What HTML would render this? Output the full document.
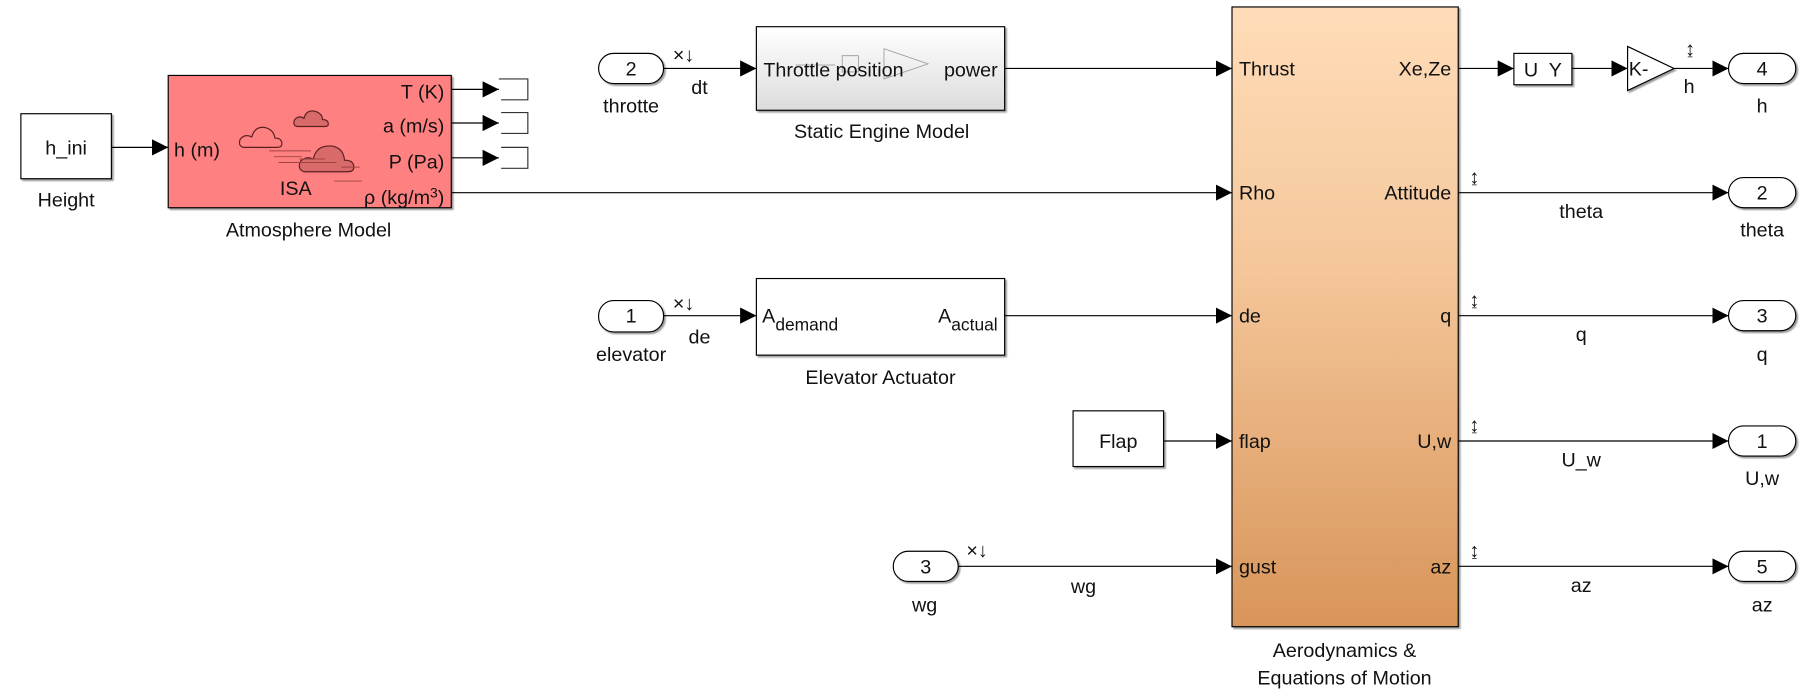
<!DOCTYPE html>
<html><head><meta charset="utf-8"><style>
html,body{margin:0;padding:0;background:#fff;width:1819px;height:694px;overflow:hidden}
svg{display:block}
text{font-family:"Liberation Sans",sans-serif;font-size:17px;fill:#111}
</style></head><body>
<svg width="1819" height="694" viewBox="0 0 1568 598" preserveAspectRatio="none" xmlns="http://www.w3.org/2000/svg">
<defs>
<marker id="a" markerWidth="14" markerHeight="14" refX="14" refY="7" orient="auto" markerUnits="userSpaceOnUse"><path d="M0,0 L14,7 L0,14 Z" fill="#000"/></marker>
<linearGradient id="g1" x1="0" y1="0" x2="0" y2="1"><stop offset="0" stop-color="#fff"/><stop offset="1" stop-color="#dcdcdc"/></linearGradient>
<linearGradient id="g2" x1="0" y1="0" x2="0" y2="1"><stop offset="0" stop-color="#ffdcb8"/><stop offset="0.4" stop-color="#f5c89c"/><stop offset="1" stop-color="#d8955a"/></linearGradient>
<filter id="sh"><feDropShadow dx="1.5" dy="1.5" stdDeviation="0.8" flood-color="#000" flood-opacity="0.4"/></filter>
</defs>
<g stroke="#000" stroke-width="1" fill="none">
<rect x="18" y="98" width="78" height="56" fill="#fff" filter="url(#sh)"/>
<line x1="96" y1="127" x2="145" y2="127" marker-end="url(#a)"/>
<rect x="145" y="65" width="244" height="114" fill="#ff8080" filter="url(#sh)"/>
<line x1="389" y1="77" x2="430" y2="77" marker-end="url(#a)"/>
<line x1="389" y1="106" x2="430" y2="106" marker-end="url(#a)"/>
<line x1="389" y1="136" x2="430" y2="136" marker-end="url(#a)"/>
<path d="M430,68 H455 V86 H432 M432,97 H455 V115 H432 M432,127 H455 V145 H432" stroke="#333"/>
<line x1="389" y1="166" x2="1062" y2="166" marker-end="url(#a)"/>
<rect x="516" y="46" width="56" height="26" rx="13" fill="#fff" filter="url(#sh)"/>
<line x1="572" y1="59" x2="652" y2="59" marker-end="url(#a)"/>
<rect x="652" y="23" width="214" height="72" fill="url(#g1)" filter="url(#sh)"/>
<path d="M686,56 H720 M726,48 h14 v14 h-14z M762,42 L800,55 L762,68z" stroke="#999" stroke-width="0.7"/>
<line x1="866" y1="59" x2="1062" y2="59" marker-end="url(#a)"/>
<rect x="516" y="259" width="56" height="27" rx="13" fill="#fff" filter="url(#sh)"/>
<line x1="572" y1="272" x2="652" y2="272" marker-end="url(#a)"/>
<rect x="652" y="240" width="214" height="66" fill="#fff" filter="url(#sh)"/>
<line x1="866" y1="272" x2="1062" y2="272" marker-end="url(#a)"/>
<rect x="925" y="354" width="78" height="48" fill="#fff" filter="url(#sh)"/>
<line x1="1003" y1="380" x2="1062" y2="380" marker-end="url(#a)"/>
<rect x="770" y="475" width="56" height="26" rx="13" fill="#fff" filter="url(#sh)"/>
<line x1="826" y1="488" x2="1062" y2="488" marker-end="url(#a)"/>
<rect x="1062" y="6" width="195" height="534" fill="url(#g2)" filter="url(#sh)"/>
<line x1="1257" y1="59" x2="1305" y2="59" marker-end="url(#a)"/>
<rect x="1305" y="46" width="50" height="27" fill="#fff" filter="url(#sh)"/>
<line x1="1355" y1="59" x2="1403" y2="59" marker-end="url(#a)"/>
<path d="M1403,40 L1443,59 L1403,78 Z" fill="#fff" filter="url(#sh)"/>
<line x1="1443" y1="59" x2="1490" y2="59" marker-end="url(#a)"/>
<rect x="1490" y="46" width="58" height="26" rx="13" fill="#fff" filter="url(#sh)"/>
<line x1="1257" y1="166" x2="1490" y2="166" marker-end="url(#a)"/>
<rect x="1490" y="153" width="58" height="26" rx="13" fill="#fff" filter="url(#sh)"/>
<line x1="1257" y1="272" x2="1490" y2="272" marker-end="url(#a)"/>
<rect x="1490" y="259" width="58" height="26" rx="13" fill="#fff" filter="url(#sh)"/>
<line x1="1257" y1="380" x2="1490" y2="380" marker-end="url(#a)"/>
<rect x="1490" y="367" width="58" height="26" rx="13" fill="#fff" filter="url(#sh)"/>
<line x1="1257" y1="488" x2="1490" y2="488" marker-end="url(#a)"/>
<rect x="1490" y="475" width="58" height="26" rx="13" fill="#fff" filter="url(#sh)"/>
</g>
<g stroke="#5a2020" stroke-width="1">
<path d="M210,127 q-5,-1 -3,-7 q4,-5 10,-2 q3,-10 12,-8 q7,2 8,9 q6,0 6,5 q0,3 -4,3 Z" fill="none"/>
<path d="M256,109 q-4,-1 -2,-6 q4,-4 8,-1 q2,-8 10,-6 q6,2 6,7 q5,0 5,4 q0,2 -3,2 Z" fill="#d86a6a"/>
<path d="M262,148 q-6,-2 -3,-9 q5,-5 11,-2 q3,-13 17,-11 q9,2 10,12 q8,0 8,6 q0,4 -5,4 Z" fill="#d86a6a"/>
<path d="M232,130 H268 M236,135 H260 M258,137 H280 M240,140 H290 M294,144 H310 M288,156 H312" stroke="#a04444" stroke-width="0.8"/>
</g>
<text x="57" y="133" text-anchor="middle">h_ini</text>
<text x="57" y="178" text-anchor="middle">Height</text>
<text x="150" y="135">h (m)</text>
<text x="383" y="85" text-anchor="end">T (K)</text>
<text x="383" y="114" text-anchor="end">a (m/s)</text>
<text x="383" y="145" text-anchor="end">P (Pa)</text>
<text x="383" y="176" text-anchor="end">ρ (kg/m<tspan font-size="12" dy="-6">3</tspan><tspan dy="6">)</tspan></text>
<text x="255" y="168" text-anchor="middle">ISA</text>
<text x="266" y="204" text-anchor="middle">Atmosphere Model</text>
<text x="544" y="65" text-anchor="middle">2</text>
<text x="544" y="97" text-anchor="middle">throtte</text>
<text x="580" y="53" font-size="14">×↓</text>
<text x="603" y="81" text-anchor="middle">dt</text>
<text x="658" y="66">Throttle position</text>
<text x="860" y="66" text-anchor="end">power</text>
<text x="760" y="119" text-anchor="middle">Static Engine Model</text>
<text x="544" y="278" text-anchor="middle">1</text>
<text x="544" y="311" text-anchor="middle">elevator</text>
<text x="580" y="267" font-size="14">×↓</text>
<text x="603" y="296" text-anchor="middle">de</text>
<text x="657" y="278">A<tspan font-size="15" dy="7">demand</tspan></text>
<text x="860" y="278" text-anchor="end">A<tspan font-size="15" dy="7">actual</tspan></text>
<text x="759" y="331" text-anchor="middle">Elevator Actuator</text>
<text x="964" y="386" text-anchor="middle">Flap</text>
<text x="798" y="494" text-anchor="middle">3</text>
<text x="797" y="527" text-anchor="middle">wg</text>
<text x="833" y="480" font-size="14">×↓</text>
<text x="934" y="511" text-anchor="middle">wg</text>
<text x="1068" y="65">Thrust</text>
<text x="1068" y="172">Rho</text>
<text x="1068" y="278">de</text>
<text x="1068" y="386">flap</text>
<text x="1068" y="494">gust</text>
<text x="1251" y="65" text-anchor="end">Xe,Ze</text>
<text x="1251" y="172" text-anchor="end">Attitude</text>
<text x="1251" y="278" text-anchor="end">q</text>
<text x="1251" y="386" text-anchor="end">U,w</text>
<text x="1251" y="494" text-anchor="end">az</text>
<text x="1159" y="566" text-anchor="middle">Aerodynamics &amp;</text>
<text x="1159" y="590" text-anchor="middle">Equations of Motion</text>
<text x="1330" y="66" text-anchor="middle" font-size="18" xml:space="preserve">U  Y</text>
<text x="1404" y="65">K-</text>
<text x="1457" y="48" text-anchor="middle" font-size="14">↨</text>
<text x="1456" y="80" text-anchor="middle">h</text>
<text x="1519" y="65" text-anchor="middle">4</text>
<text x="1519" y="97" text-anchor="middle">h</text>
<text x="1271" y="158" text-anchor="middle" font-size="14">↨</text>
<text x="1363" y="188" text-anchor="middle">theta</text>
<text x="1519" y="172" text-anchor="middle">2</text>
<text x="1519" y="204" text-anchor="middle">theta</text>
<text x="1271" y="264" text-anchor="middle" font-size="14">↨</text>
<text x="1363" y="294" text-anchor="middle">q</text>
<text x="1519" y="278" text-anchor="middle">3</text>
<text x="1519" y="311" text-anchor="middle">q</text>
<text x="1271" y="372" text-anchor="middle" font-size="14">↨</text>
<text x="1363" y="402" text-anchor="middle">U_w</text>
<text x="1519" y="386" text-anchor="middle">1</text>
<text x="1519" y="418" text-anchor="middle">U,w</text>
<text x="1271" y="480" text-anchor="middle" font-size="14">↨</text>
<text x="1363" y="510" text-anchor="middle">az</text>
<text x="1519" y="494" text-anchor="middle">5</text>
<text x="1519" y="527" text-anchor="middle">az</text>
</svg>
</body></html>
